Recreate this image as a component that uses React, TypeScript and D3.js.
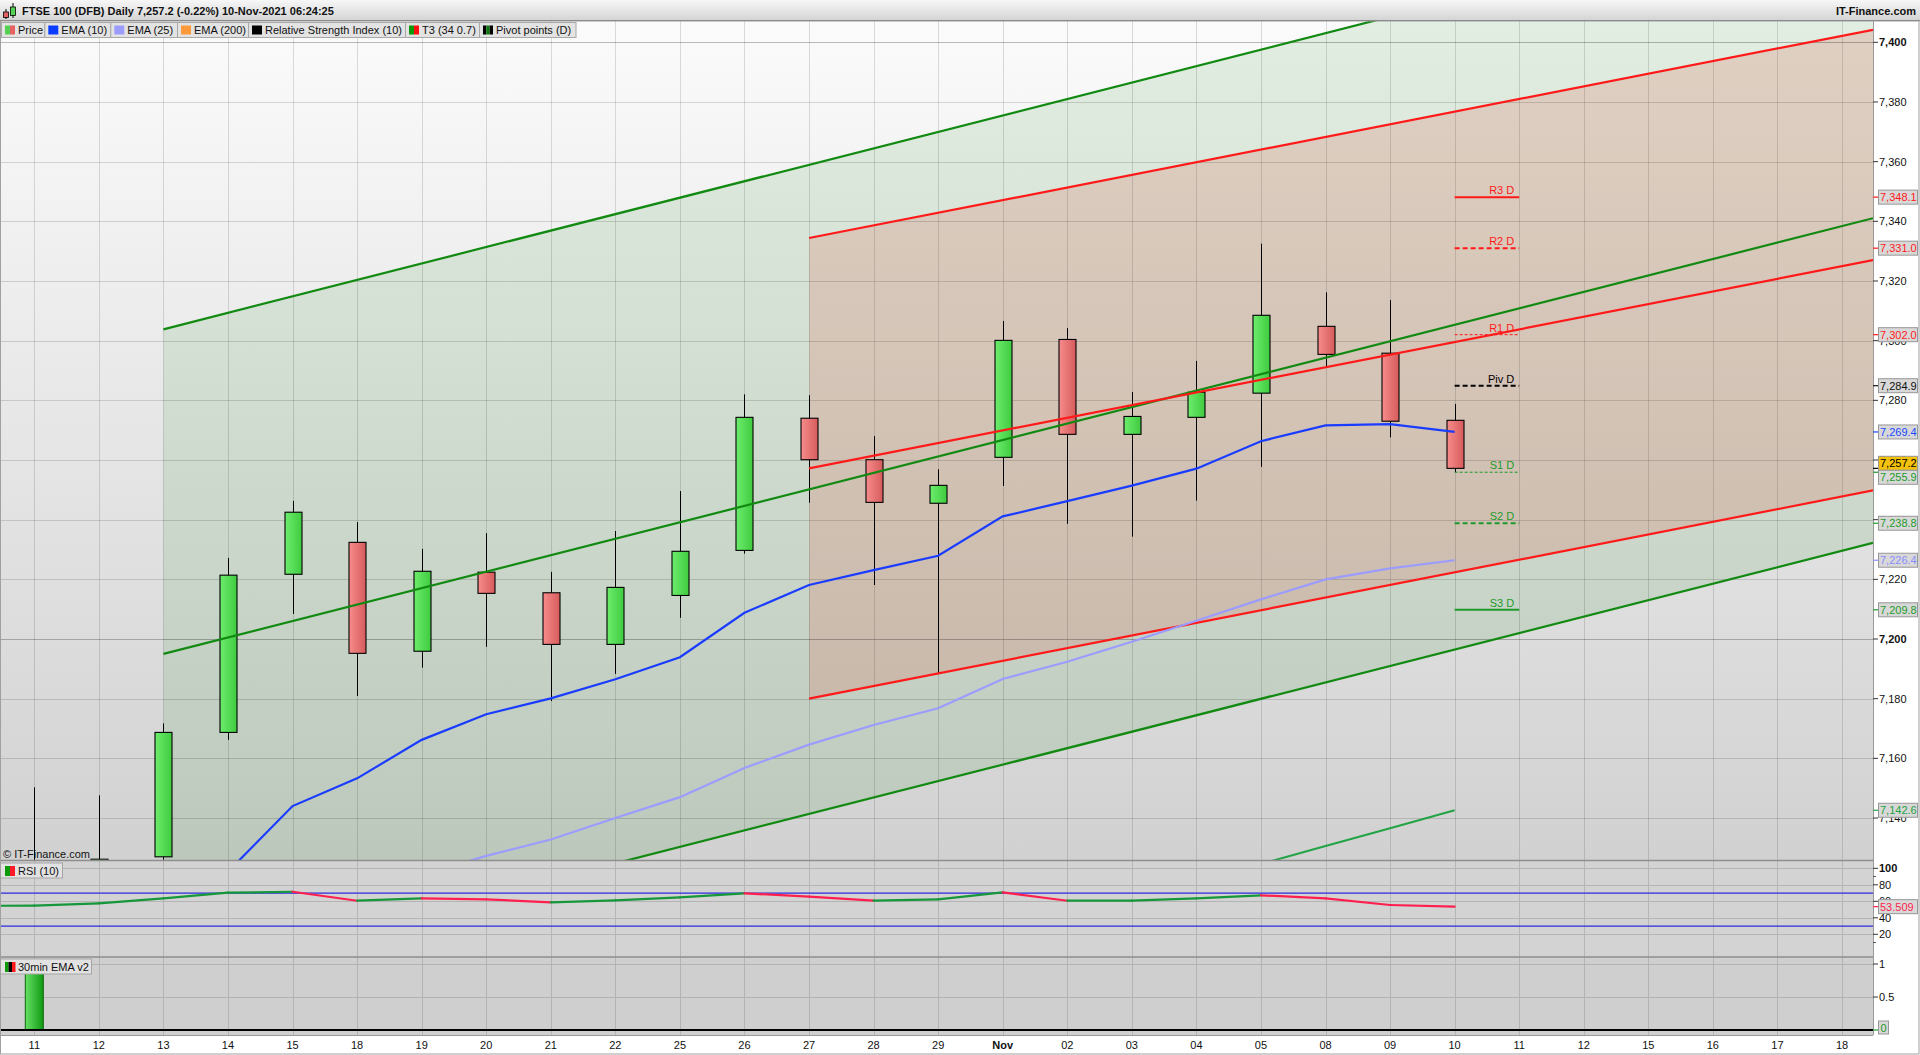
import React from "react";
import * as d3 from "d3";

// ---------- data ----------
const dayLabels = ["11","12","13","14","15","18","19","20","21","22","25","26","27","28","29","Nov","02","03","04","05","08","09","10","11","12","15","16","17","18"];

const candleOpen  = [7098, 7100, 7127, 7168.7, 7221.7, 7232.4, 7195.9, 7222.4, 7215.5, 7198.2, 7214.6, 7229.7, 7274.0, 7260.1, 7245.5, 7260.9, 7300.4, 7268.6, 7274.3, 7282.4, 7304.8, 7295.8, 7273.3];
const candleHigh  = [7150.3, 7147.6, 7171.7, 7227.2, 7246.3, 7239.2, 7230.2, 7235.5, 7222.5, 7236.2, 7249.6, 7282.0, 7281.7, 7268.0, 7256.9, 7306.6, 7304.2, 7282.8, 7293.2, 7332.5, 7316.2, 7313.6, 7278.8];
const candleLow   = [7085, 7090, 7115, 7166.2, 7208.4, 7180.9, 7190.4, 7197.4, 7179.2, 7188.3, 7207.1, 7228.6, 7245.7, 7218.1, 7188.5, 7251.3, 7238.6, 7234.3, 7246.4, 7257.7, 7291.0, 7267.6, 7255.9];
const candleClose = [7120, 7126.2, 7168.7, 7221.4, 7242.5, 7195.2, 7222.7, 7215.3, 7198.2, 7217.3, 7229.4, 7274.3, 7260.1, 7245.8, 7251.5, 7300.1, 7268.6, 7274.6, 7282.7, 7308.5, 7295.4, 7273.0, 7257.2];

const ema10 = [7075, 7086, 7100, 7122, 7144.0, 7153.3, 7166.2, 7174.8, 7180.1, 7186.5, 7193.9, 7208.8, 7218.1, 7223.1, 7227.9, 7241.1, 7246.2, 7251.4, 7257.1, 7266.3, 7271.6, 7272.0, 7269.4];
const ema25 = [7093, 7096, 7100, 7105, 7110, 7115, 7121, 7127.3, 7132.8, 7140, 7147, 7156.8, 7164.6, 7171.2, 7176.8, 7186.6, 7192.4, 7199.1, 7206.1, 7213.3, 7220.0, 7223.7, 7226.4];

const t3StartDay = 19;
const t3Band = [7124.6, 7130.6, 7136.6, 7142.6];

const chanGreen = { startDay: 2, mid: 7195.0, perDay: 5.515, half: 108.8 };
const chanRed = { startDay: 12, mid: 7257.2, perDay: 4.235, half: 77.2 };

const pivotLabels = ["R3 D", "R2 D", "R1 D", "Piv D", "S1 D", "S2 D", "S3 D"];
const pivotValues = [7348.1, 7331.0, 7302.0, 7284.9, 7255.9, 7238.8, 7209.8];
const pivotDay = 22;

const rsiPrev = 54.5; // Oct 08, just off the left edge
const rsi10 = [54.7, 57.6, 63.6, 70.4, 71.6, 60.7, 63.6, 62.4, 58.8, 61.2, 64.8, 69.7, 65.6, 60.7, 62.4, 70.9, 60.7, 60.7, 63.6, 67.3, 63.6, 55.5, 53.509];
const rsiBands = [70, 30];

const emaV2Bars = [1, 0, 0, 0, 0, 0, 0, 0, 0, 0, 0, 0, 0, 0, 0, 0, 0, 0, 0, 0, 0, 0, 0];

const priceTicks = d3.range(7140, 7401, 20);
const rsiTicks = [100, 80, 60, 40, 20];
const rsiMinorTicks = [90, 10];
const subTicks = [1, 0.5];

const legendItems = ["Price", "EMA (10)", "EMA (25)", "EMA (200)", "Relative Strength Index (10)", "T3 (34 0.7)", "Pivot points (D)"];
const legendSwatches = [["#52d152", "#e66262"], ["#0a3cff"], ["#9c9cff"], ["#ff9a3c"], ["#000000"], ["#0a9a0a", "#ff1010"], ["#000000", "#0a7a0a", "#000000"]];

const titleText = "FTSE 100 (DFB) Daily 7,257.2 (-0.22%) 10-Nov-2021 06:24:25";

// ---------- layout ----------
const W = 1920, H = 1055;
const PL = 0, PR = 1873;
const MT = 21, MB = 860;
const RT = 861, RB = 957;
const ST = 957, SB = 1035;
const FONT = "'Liberation Sans', Arial, Helvetica, sans-serif";
const legendEdges = [1, 44.3, 110.3, 177, 248, 405, 479, 575.5];

const RED = "#ff1a1a";
const GREEN_LINE = "#128a12";
const S_GREEN = "#1f9a2a";

export default function App() {
  const x = d3.scaleLinear().domain([0, 28]).range([34.3, 1842]);
  const yMain = d3.scaleLinear().domain([7126, 7400]).range([859.8, 42.3]);
  const yRsi = d3.scaleLinear().domain([0, 100]).range([950.8, 868.3]);
  const ySub = d3.scaleLinear().domain([0, 1]).range([1030, 964]);
  const endIdx = x.invert(PR);

  const lineMain = d3.line<number>().x((_, i) => x(i)).y((v) => yMain(v));
  const t3Line = d3.line<number>().x((_, i) => x(t3StartDay + i)).y((v) => yMain(v));

  const chanVal = (c: typeof chanGreen, i: number, off: number) => c.mid + c.perDay * (i - c.startDay) + off;
  const chanPoly = (c: typeof chanGreen) => {
    const pts: [number, number][] = [
      [x(c.startDay), yMain(chanVal(c, c.startDay, c.half))],
      [x(endIdx), yMain(chanVal(c, endIdx, c.half))],
      [x(endIdx), yMain(chanVal(c, endIdx, -c.half))],
      [x(c.startDay), yMain(chanVal(c, c.startDay, -c.half))],
    ];
    return "M" + pts.map((p) => p.join(",")).join("L") + "Z";
  };
  const chanLines = (c: typeof chanGreen) =>
    [c.half, 0, -c.half].map((off) => ({
      x1: x(c.startDay), y1: yMain(chanVal(c, c.startDay, off)),
      x2: x(endIdx), y2: yMain(chanVal(c, endIdx, off)),
    }));

  // RSI coloured segments
  const rsiSeries = [rsiPrev, ...rsi10];
  const rsiSegs = rsiSeries.slice(1).map((v, k) => {
    const i0 = k - 1, i1 = k;
    const v0 = rsiSeries[k];
    return { x1: x(i0), y1: yRsi(v0), x2: x(i1), y2: yRsi(v), up: v >= v0 };
  });

  // value boxes on the right axis
  type Box = { v: number; txt: string; color: string; bg: string; y: number };
  const fmt = d3.format(",.1f");
  const boxes: Box[] = [
    { v: pivotValues[0], txt: fmt(pivotValues[0]), color: RED, bg: "#d8d8d8", y: 0 },
    { v: pivotValues[1], txt: fmt(pivotValues[1]), color: RED, bg: "#d8d8d8", y: 0 },
    { v: pivotValues[2], txt: fmt(pivotValues[2]), color: RED, bg: "#d8d8d8", y: 0 },
    { v: pivotValues[3], txt: fmt(pivotValues[3]), color: "#111", bg: "#d8d8d8", y: 0 },
    { v: ema10[ema10.length - 1], txt: fmt(ema10[ema10.length - 1]), color: "#1a48ff", bg: "#d8d8d8", y: 0 },
    { v: candleClose[candleClose.length - 1], txt: fmt(candleClose[candleClose.length - 1]), color: "#000", bg: "#f4c20d", y: 0 },
    { v: pivotValues[4], txt: fmt(pivotValues[4]), color: S_GREEN, bg: "#d8d8d8", y: 0 },
    { v: pivotValues[5], txt: fmt(pivotValues[5]), color: S_GREEN, bg: "#d8d8d8", y: 0 },
    { v: ema25[ema25.length - 1], txt: fmt(ema25[ema25.length - 1]), color: "#8c8cff", bg: "#d8d8d8", y: 0 },
    { v: pivotValues[6], txt: fmt(pivotValues[6]), color: S_GREEN, bg: "#d8d8d8", y: 0 },
    { v: t3Band[t3Band.length - 1], txt: fmt(t3Band[t3Band.length - 1]), color: "#22a344", bg: "#d8d8d8", y: 0 },
  ];
  boxes.forEach((b) => (b.y = yMain(b.v)));
  boxes.sort((a, b) => a.y - b.y);
  const BH = 14;
  for (let i = 1; i < boxes.length; i++) {
    const gap = boxes[i].y - boxes[i - 1].y;
    if (gap < BH) {
      const o = (BH - gap) / 2;
      boxes[i - 1].y -= o;
      boxes[i].y += o;
    }
  }

  const pivotStyle = (k: number) => {
    const col = k < 3 ? RED : k === 3 ? "#000" : S_GREEN;
    const thin = k === 2 || k === 4;
    const solid = k === 0 || k === 6;
    return { col, w: thin ? 1 : 2, dash: solid ? undefined : thin ? "3,2" : "5,3" };
  };

  const bodyW = 17;
  const lastRsi = rsi10[rsi10.length - 1];

  return (
    <svg width={W} height={H} style={{ position: "absolute", left: 0, top: 0, display: "block" }} fontFamily={FONT}>
      <defs>
        <linearGradient id="bgMain" x1="0" y1="0" x2="0" y2="1">
          <stop offset="0%" stopColor="#fbfbfb" />
          <stop offset="100%" stopColor="#d1d1d1" />
        </linearGradient>
        <linearGradient id="titleGrad" x1="0" y1="0" x2="0" y2="1">
          <stop offset="0%" stopColor="#f7f7f7" />
          <stop offset="100%" stopColor="#d3d3d3" />
        </linearGradient>
        <linearGradient id="upGrad" x1="0" y1="0" x2="1" y2="0">
          <stop offset="0%" stopColor="#6ded6d" />
          <stop offset="100%" stopColor="#3fcb3f" />
        </linearGradient>
        <linearGradient id="dnGrad" x1="0" y1="0" x2="1" y2="0">
          <stop offset="0%" stopColor="#f78c8c" />
          <stop offset="100%" stopColor="#d65b5b" />
        </linearGradient>
        <linearGradient id="barGrad" x1="0" y1="0" x2="1" y2="0">
          <stop offset="0%" stopColor="#66e066" />
          <stop offset="100%" stopColor="#119a11" />
        </linearGradient>
        <clipPath id="clipMain">
          <rect x={PL} y={MT} width={PR - PL} height={MB - MT} />
        </clipPath>
        <clipPath id="clipRsi">
          <rect x={PL} y={RT} width={PR - PL} height={RB - RT} />
        </clipPath>
      </defs>

      {/* page background */}
      <rect x={0} y={0} width={W} height={H} fill="#ffffff" />

      {/* main panel */}
      <rect x={PL} y={MT} width={PR - PL} height={MB - MT} fill="url(#bgMain)" />
      <g clipPath="url(#clipMain)">
        <path d={chanPoly(chanGreen)} fill="rgba(0,128,0,0.10)" />
        <path d={chanPoly(chanRed)} fill="rgba(220,125,108,0.26)" />
        {dayLabels.map((_, i) => (
          <line key={"vg" + i} x1={Math.round(x(i)) + 0.5} x2={Math.round(x(i)) + 0.5} y1={MT} y2={MB} stroke="rgba(0,0,0,0.13)" />
        ))}
        {priceTicks.map((t) => (
          <line key={"hg" + t} x1={PL} x2={PR} y1={Math.round(yMain(t)) + 0.5} y2={Math.round(yMain(t)) + 0.5}
            stroke={t % 200 === 0 ? "rgba(0,0,0,0.26)" : "rgba(0,0,0,0.14)"} />
        ))}

        {/* candles */}
        {candleOpen.map((o, i) => {
          const c = candleClose[i];
          const up = c >= o;
          const cx = Math.round(x(i)) + 0.5;
          const top = yMain(Math.max(o, c));
          const bot = yMain(Math.min(o, c));
          return (
            <g key={"c" + i}>
              <line x1={cx} x2={cx} y1={yMain(candleHigh[i])} y2={yMain(candleLow[i])} stroke="#000" strokeWidth={1} />
              <rect x={cx - bodyW / 2} y={top} width={bodyW} height={Math.max(1, bot - top)}
                fill={up ? "url(#upGrad)" : "url(#dnGrad)"} stroke="#000" strokeWidth={1.1} />
            </g>
          );
        })}

        {/* channel lines */}
        {chanLines(chanGreen).map((l, k) => (
          <line key={"gl" + k} {...l} stroke={GREEN_LINE} strokeWidth={2.2} />
        ))}
        {chanLines(chanRed).map((l, k) => (
          <line key={"rl" + k} {...l} stroke={RED} strokeWidth={2.2} />
        ))}

        {/* EMAs */}
        <path d={lineMain(ema25) || ""} fill="none" stroke="#9c9cff" strokeWidth={2.2} />
        <path d={lineMain(ema10) || ""} fill="none" stroke="#1a3cff" strokeWidth={2.2} />
        <path d={t3Line(t3Band) || ""} fill="none" stroke="#22a344" strokeWidth={2} />

        {/* pivots */}
        {pivotValues.map((v, k) => {
          const s = pivotStyle(k);
          const yy = yMain(v);
          return (
            <g key={"pv" + k}>
              <line x1={x(pivotDay)} x2={x(pivotDay + 1)} y1={yy} y2={yy} stroke={s.col} strokeWidth={s.w} strokeDasharray={s.dash} />
              <text x={x(pivotDay + 1) - 5} y={yy - 3} fontSize={11} textAnchor="end" fill={s.col}>{pivotLabels[k]}</text>
            </g>
          );
        })}
      </g>
      <text x={3} y={858} fontSize={11} fill="#111">© IT-Finance.com</text>

      {/* RSI panel */}
      <rect x={PL} y={RT} width={PR - PL} height={RB - RT} fill="#d3d3d3" />
      {dayLabels.map((_, i) => (
        <line key={"rvg" + i} x1={Math.round(x(i)) + 0.5} x2={Math.round(x(i)) + 0.5} y1={RT} y2={RB} stroke="#b6b6b6" />
      ))}
      {rsiTicks.map((t) => (
        <line key={"rhg" + t} x1={PL} x2={PR} y1={Math.round(yRsi(t)) + 0.5} y2={Math.round(yRsi(t)) + 0.5} stroke="#b4b4b4" />
      ))}
      {rsiBands.map((b) => (
        <line key={"rb" + b} x1={PL} x2={PR} y1={yRsi(b)} y2={yRsi(b)} stroke="#2b2be0" strokeWidth={1.2} />
      ))}
      <g clipPath="url(#clipRsi)">
        {rsiSegs.map((s, k) => (
          <line key={"rs" + k} x1={s.x1} y1={s.y1} x2={s.x2} y2={s.y2} stroke={s.up ? "#16973a" : "#ff1f4f"} strokeWidth={2.2} strokeLinecap="round" />
        ))}
      </g>

      {/* 30min EMA v2 panel */}
      <rect x={PL} y={ST} width={PR - PL} height={SB - ST} fill="#cfcfcf" />
      {dayLabels.map((_, i) => (
        <line key={"svg" + i} x1={Math.round(x(i)) + 0.5} x2={Math.round(x(i)) + 0.5} y1={ST} y2={SB} stroke="#b4b4b4" />
      ))}
      {subTicks.map((t) => (
        <line key={"shg" + t} x1={PL} x2={PR} y1={Math.round(ySub(t)) + 0.5} y2={Math.round(ySub(t)) + 0.5} stroke="#b2b2b2" />
      ))}
      {emaV2Bars.map((v, i) =>
        v > 0 ? (
          <rect key={"eb" + i} x={x(i) - 9} y={ySub(v)} width={18} height={ySub(0) - ySub(v)} fill="url(#barGrad)" stroke="#0b6a0b" strokeWidth={1} />
        ) : null
      )}
      <line x1={PL} x2={PR} y1={ySub(0)} y2={ySub(0)} stroke="#000" strokeWidth={2} />

      {/* panel separators and borders */}
      <line x1={PL} x2={PR} y1={RT - 0.5} y2={RT - 0.5} stroke="#8e8e8e" strokeWidth={1.5} />
      <line x1={PL} x2={PR} y1={RB} y2={RB} stroke="#8e8e8e" strokeWidth={1.5} />
      <line x1={PL} x2={PR} y1={SB + 0.5} y2={SB + 0.5} stroke="#9a9a9a" />
      <line x1={PR + 0.5} x2={PR + 0.5} y1={MT} y2={SB} stroke="#9a9a9a" />
      <line x1={0.5} x2={0.5} y1={MT} y2={SB} stroke="#9a9a9a" />

      {/* panel labels */}
      <g>
        <rect x={0.5} y={RT + 2} width={62} height={15} fill="#e2e2e2" stroke="#a6a6a6" />
        <rect x={5} y={RT + 5} width={5} height={10} fill="#0a9a0a" />
        <rect x={10} y={RT + 5} width={5} height={10} fill="#ff1a2a" />
        <text x={18} y={RT + 14} fontSize={11} fill="#111">RSI (10)</text>
      </g>
      <g>
        <rect x={0.5} y={ST + 2} width={91} height={15} fill="#e2e2e2" stroke="#a6a6a6" />
        <rect x={5} y={ST + 5} width={3.5} height={10} fill="#0a9a0a" />
        <rect x={8.5} y={ST + 5} width={3.5} height={10} fill="#000" />
        <rect x={12} y={ST + 5} width={3.5} height={10} fill="#ff1a1a" />
        <text x={18} y={ST + 14} fontSize={11} fill="#111">30min EMA v2</text>
      </g>

      {/* right axis: price */}
      {priceTicks.map((t) => (
        <g key={"pt" + t}>
          <line x1={PR} x2={PR + 5} y1={yMain(t)} y2={yMain(t)} stroke="#333" />
          <text x={PR + 6} y={yMain(t) + 4} fontSize={11} fontWeight={t % 200 === 0 ? "bold" : "normal"} fill="#111">
            {d3.format(",")(t)}
          </text>
        </g>
      ))}
      {boxes.map((b, k) => (
        <g key={"bx" + k}>
          <line x1={PR} x2={PR + 5} y1={yMain(b.v)} y2={yMain(b.v)} stroke={b.color} strokeWidth={1.2} />
          <rect x={PR + 5.5} y={b.y - BH / 2} width={39} height={BH} fill={b.bg} stroke="#989898" />
          <text x={PR + 7} y={b.y + 4} fontSize={11} fill={b.color}>{b.txt}</text>
        </g>
      ))}

      {/* right axis: RSI */}
      {rsiTicks.map((t) => (
        <g key={"rt" + t}>
          <line x1={PR} x2={PR + 5} y1={yRsi(t)} y2={yRsi(t)} stroke="#333" />
          <text x={PR + 6} y={yRsi(t) + 4} fontSize={11} fontWeight={t === 100 ? "bold" : "normal"} fill="#111">{t}</text>
        </g>
      ))}
      {rsiMinorTicks.map((t) => (
        <line key={"rmt" + t} x1={PR} x2={PR + 3} y1={yRsi(t)} y2={yRsi(t)} stroke="#555" />
      ))}
      <line x1={PR} x2={PR + 5} y1={yRsi(lastRsi)} y2={yRsi(lastRsi)} stroke="#ff1f4f" strokeWidth={1.2} />
      <rect x={PR + 5.5} y={yRsi(lastRsi) - 7} width={39} height={14} fill="#d8d8d8" stroke="#989898" />
      <text x={PR + 7} y={yRsi(lastRsi) + 4} fontSize={11} fill="#ff1f4f">{d3.format(".3f")(lastRsi)}</text>

      {/* right axis: sub panel */}
      {subTicks.map((t) => (
        <g key={"st" + t}>
          <line x1={PR} x2={PR + 5} y1={ySub(t)} y2={ySub(t)} stroke="#333" />
          <text x={PR + 6} y={ySub(t) + 4} fontSize={11} fill="#111">{t}</text>
        </g>
      ))}
      <line x1={PR} x2={PR + 5} y1={ySub(0)} y2={ySub(0)} stroke="#1f9a2a" strokeWidth={1.2} />
      <rect x={PR + 5.5} y={ySub(0) - 9} width={10} height={13} fill="#d8d8d8" stroke="#989898" />
      <text x={PR + 7.5} y={ySub(0) + 1.5} fontSize={11} fill="#1f9a2a">0</text>

      {/* x axis labels */}
      {dayLabels.map((lab, i) => (
        <text key={"xl" + i} x={x(i)} y={1049} fontSize={11} textAnchor="middle" fontWeight={lab === "Nov" ? "bold" : "normal"} fill="#111">
          {lab}
        </text>
      ))}
      <rect x={0.5} y={MT} width={W - 1.5} height={H - MT - 1} fill="none" stroke="#a0a0a0" />

      {/* title bar */}
      <rect x={0} y={0} width={W} height={MT} fill="url(#titleGrad)" />
      <line x1={0} x2={W} y1={MT - 0.5} y2={MT - 0.5} stroke="#8a8a8a" />
      <g>
        <line x1={6} x2={6} y1={9} y2={19} stroke="#000" />
        <rect x={3.5} y={12} width={5} height={5.5} fill="#e66262" stroke="#000" strokeWidth={0.8} />
        <line x1={13} x2={13} y1={3} y2={18} stroke="#000" />
        <rect x={10.5} y={7} width={5} height={8.5} fill="#52d152" stroke="#000" strokeWidth={0.8} />
      </g>
      <text x={22} y={15} fontSize={11} fontWeight="bold" fill="#111">{titleText}</text>
      <text x={W - 4} y={15} fontSize={11} fontWeight="bold" fill="#111" textAnchor="end">IT-Finance.com</text>

      {/* legend */}
      {legendItems.map((lab, k) => {
        const x0 = legendEdges[k], x1 = legendEdges[k + 1];
        const sw = legendSwatches[k];
        const sww = 10 / sw.length;
        return (
          <g key={"lg" + k}>
            <rect x={x0 + 0.5} y={22.5} width={x1 - x0} height={15} fill="#e3e3e3" stroke="#a8a8a8" />
            {sw.map((c, j) => (
              <rect key={j} x={x0 + 4 + j * sww} y={25.5} width={sww} height={9} fill={c} />
            ))}
            <text x={x0 + 17} y={34} fontSize={11} fill="#111">{lab}</text>
          </g>
        );
      })}
    </svg>
  );
}
